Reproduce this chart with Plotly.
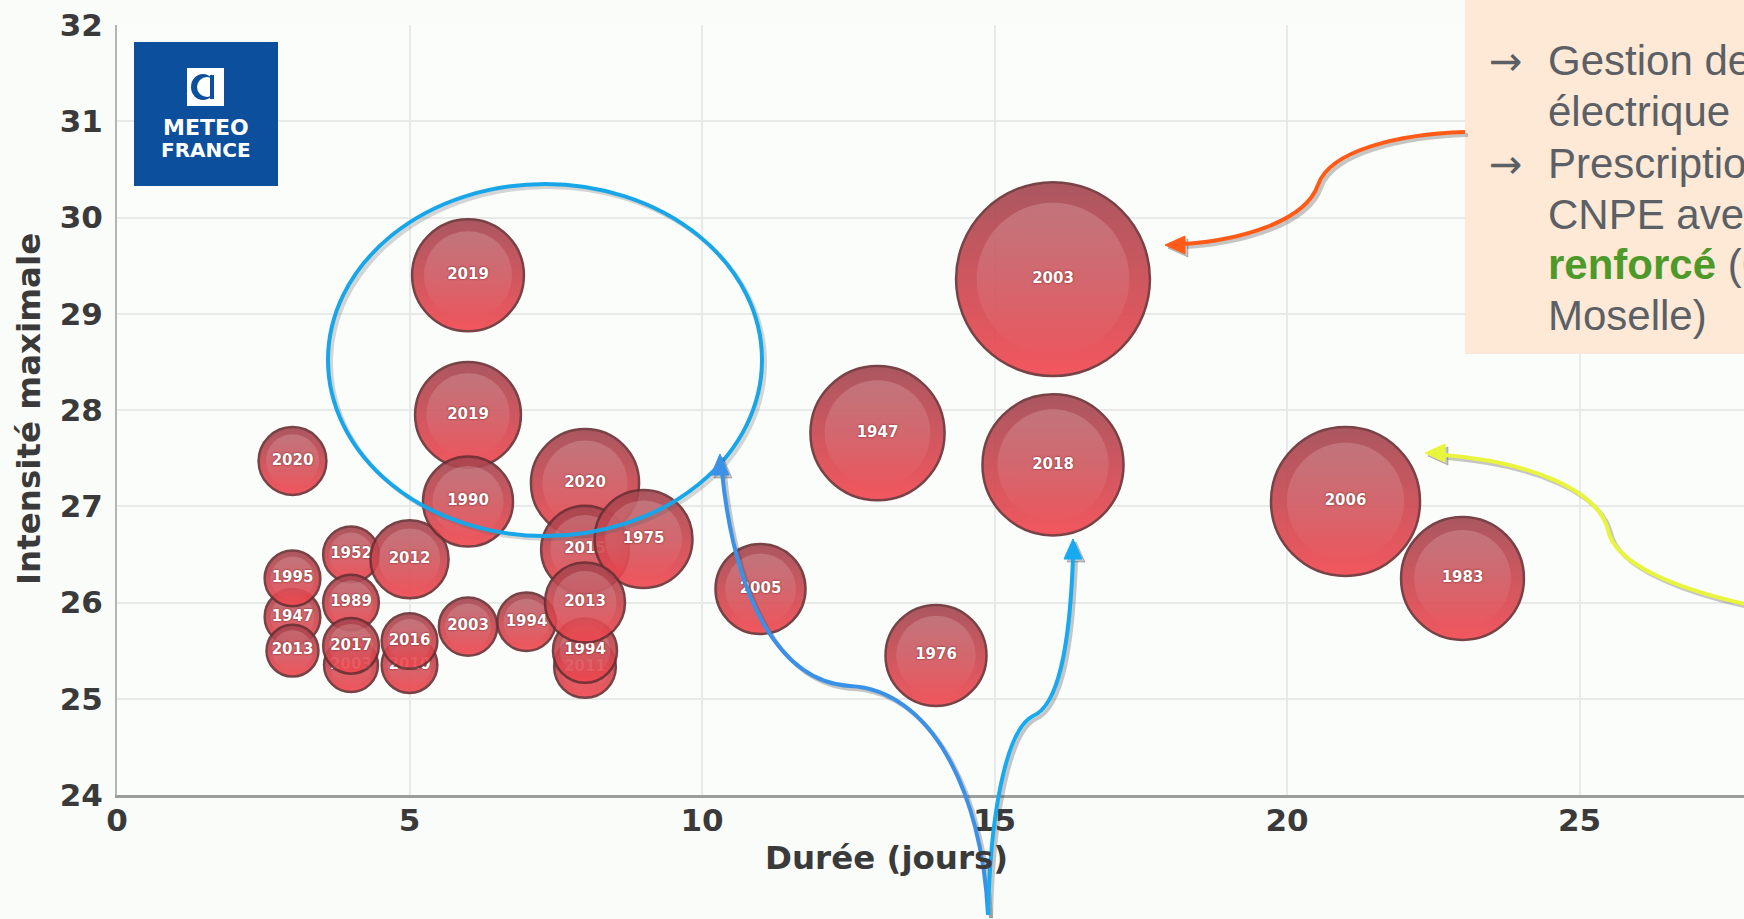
import plotly.graph_objects as go

# Vagues de chaleur : durée (jours), intensité maximale (°C) et sévérité (taille des bulles)
annees = ["1947", "1995", "2013", "2020", "2003", "1952", "1989", "2017",
          "2010", "2016", "2012", "2019", "2019", "1990", "2003", "1994",
          "2011", "1994", "2020", "2015", "1975", "2013", "2005", "1947",
          "1976", "2003", "2018", "2006", "1983"]
duree = [3, 3, 3, 3, 4, 4, 4, 4,
         5, 5, 5, 6, 6, 6, 6, 7,
         8, 8, 8, 8, 9, 8, 11, 13,
         14, 16, 16, 21, 23]
intensite = [25.85, 26.25, 25.5, 27.47, 25.35, 26.5, 26.0, 25.55,
             25.35, 25.6, 26.45, 29.4, 27.95, 27.05, 25.75, 25.8,
             25.33, 25.5, 27.24, 26.55, 26.66, 26.0, 26.14, 27.76,
             25.45, 29.36, 27.43, 27.05, 26.25]
severite = [31, 31, 27, 46, 29, 31, 31, 31,
            31, 31, 61, 125, 112, 81, 34, 34,
            38, 41, 117, 77, 96, 64, 81, 180,
            102, 376, 199, 222, 151]

x_ticks = [0, 5, 10, 15, 20, 25]
y_ticks = [24, 25, 26, 27, 28, 29, 30, 31, 32]

FIG_W, FIG_H = 1744, 919
L, T, B = 117, 25, 795
W, H = FIG_W - L, B - T
SIZEREF = 0.02

def px(x):
    return (x - L) / W

def py(y):
    return (B - y) / H

def P(x, y):
    return f"{px(x):.5f},{py(y):.5f}"

fig = go.Figure()

# Bulles : une trace par bulle pour respecter l'ordre de superposition
for an, d, i, s in zip(annees, duree, intensite, severite):
    fig.add_trace(go.Scatter(
        x=[d], y=[i], mode="markers",
        marker=dict(size=[s], sizemode="area", sizeref=SIZEREF,
                    color="#a24650",
                    gradient=dict(type="vertical", color="#f2464e"),
                    line=dict(color="#6a2f33", width=2.5), opacity=0.9),
        hoverinfo="skip", showlegend=False))
    fig.add_trace(go.Scatter(
        x=[d], y=[i], mode="markers+text", text=[an],
        textposition="middle center",
        textfont=dict(family="DejaVu Sans", size=15, color="white",
                      weight="bold",
                      shadow="0px 0px 2px rgba(90,10,10,0.9)"),
        marker=dict(size=[s * 0.62], sizemode="area", sizeref=SIZEREF,
                    color="rgba(255,225,225,0.30)",
                    gradient=dict(type="vertical", color="rgba(255,255,255,0)"),
                    line=dict(width=0)),
        hoverinfo="skip", showlegend=False))

tick_font = dict(family="DejaVu Sans", size=31, color="#3a3a3a", weight="bold")
grid_col = "#e7eae8"

fig.update_layout(
    width=FIG_W, height=FIG_H, autosize=False,
    margin=dict(l=L, r=0, t=T, b=FIG_H - B, pad=0),
    paper_bgcolor="#fafcf9", plot_bgcolor="#fbfdfb",
    showlegend=False,
    xaxis=dict(range=[0, (FIG_W - L) / 58.5], tickvals=x_ticks,
               ticktext=[str(v) for v in x_ticks],
               showgrid=True, gridcolor=grid_col, gridwidth=2,
               showline=True, linecolor="#9c9c9c", linewidth=3,
               zeroline=False, ticks="", ticklabelstandoff=-4,
               tickfont=tick_font),
    yaxis=dict(range=[24, 32], tickvals=y_ticks,
               ticktext=[str(v) for v in y_ticks],
               showgrid=True, gridcolor=grid_col, gridwidth=2,
               showline=True, linecolor="#b4b4b4", linewidth=2,
               zeroline=False, ticks="outside", ticklen=6,
               tickcolor="rgba(0,0,0,0)", tickfont=tick_font),
)

title_font = dict(family="DejaVu Sans", size=32.5, color="#3a3a3a", weight="bold")
annotations = [
    dict(text="Durée (jours)", x=px(886), y=py(858), font=title_font),
    dict(text="Intensité maximale", x=px(29), y=py(409), textangle=-90,
         font=title_font),
]

shapes = []

# Logo Météo-France
shapes.append(dict(type="rect", x0=px(134), x1=px(278), y0=py(186), y1=py(42),
                   fillcolor="#0b4f9d", line=dict(width=0)))
shapes.append(dict(type="rect", x0=px(187), x1=px(224), y0=py(106), y1=py(68),
                   fillcolor="white", line=dict(width=0)))
shapes.append(dict(type="circle", x0=px(191), x1=px(215), y0=py(100), y1=py(74),
                   fillcolor="#0b4f9d", line=dict(width=0)))
shapes.append(dict(type="circle", x0=px(197), x1=px(217), y0=py(97), y1=py(77),
                   fillcolor="white", line=dict(width=0)))
shapes.append(dict(type="rect", x0=px(210), x1=px(214), y0=py(99), y1=py(75),
                   fillcolor="#0b4f9d", line=dict(width=0)))
logo_font = dict(family="DejaVu Sans", color="white", weight="bold")
annotations += [
    dict(text="METEO", x=px(206), y=py(127), font=dict(logo_font, size=22)),
    dict(text="FRANCE", x=px(206), y=py(150), font=dict(logo_font, size=20)),
]

# Ellipse bleue autour des vagues courtes
shapes.append(dict(type="circle", x0=px(331), x1=px(765), y0=py(539), y1=py(187),
                   line=dict(color="rgba(90,90,90,0.25)", width=4)))
shapes.append(dict(type="circle", x0=px(328), x1=px(762), y0=py(536), y1=py(184),
                   line=dict(color="#18a6e8", width=4)))

def arrow(path, head, color, width=4):
    dx, dy = 3, 3
    sh_path = [(x + dx, y + dy) for x, y in path]
    sh_head = [(x + dx, y + dy) for x, y in head]
    out = []
    for pts, hd, col in ((sh_path, sh_head, "rgba(70,70,70,0.30)"), (path, head, color)):
        p = f"M{P(*pts[0])}"
        for k in range(1, len(pts), 3):
            p += f" C{P(*pts[k])} {P(*pts[k + 1])} {P(*pts[k + 2])}"
        out.append(dict(type="path", path=p, line=dict(color=col, width=width)))
        hp = f"M{P(*hd[0])} L{P(*hd[1])} L{P(*hd[2])} Z"
        out.append(dict(type="path", path=hp, fillcolor=col, line=dict(color=col, width=1)))
    return out

# Flèches bleues depuis le bas
shapes += arrow([(988, 915), (982, 790), (930, 690), (850, 686),
                 (780, 682), (735, 600), (722, 472)],
                [(720, 454), (711, 475), (729, 475)], "#3b90e8")
shapes += arrow([(988, 915), (990, 820), (1005, 730), (1033, 716),
                 (1060, 705), (1070, 640), (1073, 558)],
                [(1073, 539), (1064, 559), (1082, 559)], "#17aaf0")

# Encadré texte
shapes.append(dict(type="rect", x0=px(1465), x1=px(1760), y0=py(354), y1=py(-5),
                   fillcolor="#fde9d5", line=dict(width=0)))

# Flèche orange vers 2003
shapes += arrow([(1465, 132), (1400, 134), (1330, 150), (1318, 185),
                 (1305, 222), (1240, 240), (1184, 244)],
                [(1165, 245), (1185, 236), (1185, 254)], "#ff5b18")
# Flèche jaune vers 2006
shapes += arrow([(1750, 605), (1680, 590), (1615, 565), (1608, 530),
                 (1598, 490), (1530, 462), (1444, 455)],
                [(1425, 453), (1445, 444), (1445, 462)], "#e9f53c")

for s in shapes:
    s.update(xref="paper", yref="paper", layer="above")

box_font = dict(family="Liberation Sans", size=42, color="#5b6066")
GREEN = "#4d9a2a"
lines = [
    (1546, 75, "Gestion de la production"),
    (1546, 126, "électrique"),
    (1546, 178, "Prescriptions spécifiques"),
    (1546, 229, "CNPE avec suivi"),
    (1546, 279, f"<b><span style='color:{GREEN}'>renforcé</span></b> (Cattenom,"),
    (1546, 330, "Moselle)"),
]
for x, base, txt in lines:
    annotations.append(dict(text=txt, x=px(x), y=py(base - 14.5),
                            xanchor="left", font=box_font))
for base in (75, 178):
    annotations.append(dict(text="→", x=px(1487), y=py(base - 14),
                            xanchor="left",
                            font=dict(family="DejaVu Sans", size=40,
                                      color="#5b6066")))

for a in annotations:
    a.setdefault("xanchor", "center")
    a.update(xref="paper", yref="paper", showarrow=False, yanchor="middle")

fig.update_layout(shapes=shapes, annotations=annotations)

fig.write_html("out.html")
